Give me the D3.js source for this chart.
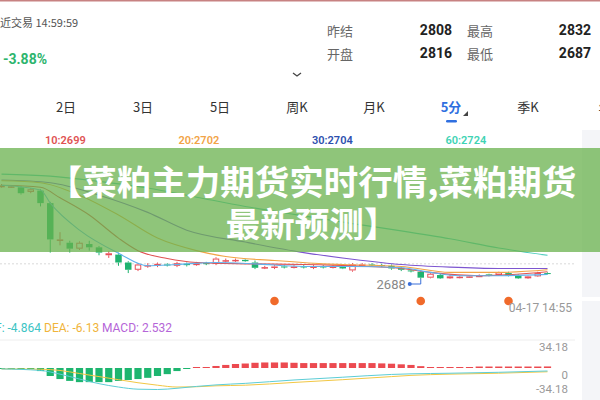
<!DOCTYPE html>
<html><head><meta charset="utf-8">
<script src="https://cdn.jsdelivr.net/npm/d3@7"></script>
<style>
body{margin:0;background:#fff;overflow:hidden;}
svg{display:block;font-family:"Noto Sans CJK SC","Noto Sans",sans-serif;}
.num{font-family:Roboto,"Noto Sans",sans-serif;}
</style>
</head><body>
<svg id="c" width="600" height="400"></svg>
<script>
// ---------- data ----------
const headerTime = "近交易 14:59:59";
const changePct = "-3.88%";
const infoLabels = [["昨结","2808","最高","2832"],["开盘","2816","最低","2687"]];
const tabs = ["K","2日","3日","5日","周K","月K","5分","季K","年"];
const activeTab = "5分";
const maLabels = ["10:2699","20:2702","30:2704","60:2724"];
const macdLabels = ["DIF: -4.864","DEA: -6.13","MACD: 2.532"];
const macdTicks = [34.18, 0, -34.18];
const priceDomain = [2688, 2832];
const gridPrices = [2711];
const lowLabel = 2688, lowIndex = 43;
const lastTime = "04-17 14:55";
const markerIdx = [28, 43, 52];
const titleLines = ["【菜粕主力期货实时行情,菜粕期货","最新预测】"];

// open, close, high, low
const ohlc = [
[2827,2830,2832,2826],[2828,2828.5,2830,2826],[2827,2818,2829,2816],[2820,2824,2826,2818],
[2822,2803,2824,2798],[2803,2748,2805,2728],[2746,2748,2759,2739],[2743,2734,2746,2728],
[2734,2743,2745,2732],[2741,2736,2746,2731],[2736,2728,2738,2724],[2724,2727,2730,2720],
[2725,2713,2728,2708],[2713,2702,2715,2697],[2702,2710,2712,2700],[2708,2709,2712,2705],
[2708,2711,2713,2706],[2710,2709,2712,2707],[2708,2712,2714,2706],[2711,2709,2713,2707],
[2709,2712,2714,2708],[2712,2711,2714,2709],[2711,2719,2721,2709],[2716,2716.5,2719,2713],
[2716,2717,2719,2714],[2717,2715,2718,2714],[2713,2705,2716,2703],[2705,2706,2708,2703],
[2705,2707,2709,2703],[2707,2706,2709,2704],[2706,2707,2709,2704],[2707,2706,2709,2704],
[2706,2707,2709,2703],[2707,2706,2709,2704],[2706,2707,2709,2704],[2707,2704,2708,2703],
[2701,2710,2712,2699],[2709,2710,2712,2707],[2710,2709,2712,2707],[2709,2708,2711,2706],
[2708,2704,2710,2702],[2705,2702,2707,2700],[2701,2700,2703,2698],[2699,2690,2701,2688],
[2690,2696,2698,2689],[2694,2689,2696,2688],[2689,2692,2694,2688],[2691,2691.5,2693,2689],
[2691,2692,2693,2690],[2692,2693,2695,2691],[2695,2693,2696,2692],[2694,2698,2699,2693],
[2697,2693,2699,2692],[2693,2689,2695,2688],[2689,2692,2693,2688],[2692,2697,2699,2691],
[2697,2696,2698,2695]
];

// moving-average readings [index, value]
const ma5  = [[0,2830],[4,2823],[5,2803],[8,2762],[12,2727],[15,2708],[18,2710],[22,2713],[26,2711],[31,2707],[36,2707],[41,2705],[44,2698],[47,2693],[51,2693],[56,2695]];
const ma10 = [[0,2830],[4,2827],[6,2811],[9,2785],[12,2750],[14,2731],[17,2719],[20,2713],[25,2711],[31,2710],[36,2708],[41,2704],[44,2698],[49,2693],[56,2699]];
const ma20 = [[0,2837],[4,2834],[8,2815],[12,2785],[16,2750],[20,2731],[23,2722],[28,2716],[33,2711],[41,2707],[46,2698],[51,2698],[56,2702]];
const ma30 = [[0,2838],[5,2834],[10,2815],[15,2789],[19,2762],[25,2744],[31,2728],[36,2718],[41,2710],[46,2706],[51,2704],[56,2704]];
const ma60 = [[0,2847],[5,2844],[10,2836],[15,2826],[20,2812],[25,2798],[30,2786],[36,2772],[41,2761],[46,2749],[51,2735],[56,2724]];

const macdHist = [-1.5,-1.5,-1.5,-1.5,-5,-13,-18,-21,-23,-23,-23,-23,-21,-19.5,-18,-16,-13,-10,-5,-1.5,
0.8,1.6,3.3,5,6.5,7.3,8.5,9,9,9,8.5,8,8,8,8,8,8,8,8,7.5,7,6,5,3,1.6,1.6,1.6,1.6,1.6,2.4,2.4,2.4,2.4,2.4,2.4,2.4,2.532];
const dif = [[0,-1.5],[4,-4],[6,-10],[8,-18],[10,-25.5],[12,-31],[14,-34.5],[16,-35],[18,-33],[20,-30],[22,-27.5],[25,-25],[30,-19.5],[35,-15],[40,-10.5],[42,-9.5],[46,-8.5],[51,-7],[56,-4.864]];
const dea = [[0,-1.5],[4,-2],[6,-4],[8,-9],[10,-14],[12,-19],[14,-24],[16,-28],[18,-31],[20,-30.5],[22,-29],[25,-28],[30,-23.5],[35,-19],[40,-14],[42,-12],[46,-10],[51,-8.5],[56,-6.13]];

// ---------- drawing ----------
const RED="#e8505a", GREEN="#1fb36f";
const svg = d3.select("#c");

// side panel
svg.append("rect").attr("x",582).attr("y",130).attr("width",18).attr("height",167).attr("fill","#f4f5f8");
svg.append("rect").attr("x",582).attr("y",301).attr("width",18).attr("height",99).attr("fill","#f4f5f8");

// top border
svg.append("rect").attr("x",0).attr("y",0).attr("width",600).attr("height",1.5).attr("fill","#c78282");

// header
svg.append("text").attr("x",0).attr("y",22).attr("dominant-baseline","central")
  .attr("font-size",11).attr("fill","#555").text(headerTime);
svg.append("text").attr("class","num").attr("x",3).attr("y",59).attr("dominant-baseline","central")
  .attr("font-size",14).attr("font-weight",700).attr("fill","#2db56e").text(changePct);
const colX=[327,452,467,591];
infoLabels.forEach((row,r)=>{
  row.forEach((t,c)=>{
    const isNum = c%2===1;
    svg.append("text").attr("class",isNum?"num":null)
      .attr("x",colX[c]).attr("y",30+r*23).attr("dominant-baseline","central")
      .attr("text-anchor",isNum?"end":"start")
      .attr("font-size",isNum?14:13).attr("font-weight",isNum?700:400)
      .attr("fill",isNum?"#222":"#666").text(t);
  });
});
// chevron
svg.append("path").attr("d","M293,73 L297,76 L301,73").attr("fill","none").attr("stroke","#444").attr("stroke-width",1.3);

// tabs
tabs.forEach((t,i)=>{
  const cx = -11 + i*77;
  const act = t===activeTab;
  svg.append("text").attr("x",cx).attr("y",106).attr("dominant-baseline","central")
    .attr("text-anchor","middle").attr("font-size",13).attr("font-weight",act?700:400)
    .attr("fill",act?"#2f6fe0":"#333").text(t);
  if(act){
    svg.append("rect").attr("x",cx-5).attr("y",120).attr("width",11).attr("height",2.5).attr("rx",1.2).attr("fill","#2f6fe0");
    svg.append("path").attr("d",`M${cx+17},111 L${cx+17},116 L${cx+12},116 Z`).attr("fill","#444");
  }
});

// MA labels
const maColors=["#e05252","#f2a447","#2d4fae","#40d3b4"];
maLabels.forEach((t,i)=>{
  svg.append("text").attr("class","num").attr("x",45+i*133.5).attr("y",140).attr("dominant-baseline","central")
    .attr("font-size",11).attr("font-weight",600).attr("fill",maColors[i]).text(t);
});

// scales
const x = d3.scaleLinear().domain([0, ohlc.length-1]).range([1.5, 547.5]);
const y = d3.scaleLinear().domain(priceDomain).range([279, 184]);

// grid
gridPrices.forEach(p=>{
  svg.append("line").attr("x1",0).attr("x2",575).attr("y1",y(p)).attr("y2",y(p))
    .attr("stroke","#cfcfcf").attr("stroke-dasharray","2,2").attr("stroke-width",0.8);
});

// candles
const bw=6.5;
const cg = svg.append("g");
ohlc.forEach((d,i)=>{
  const [o,c,h,l]=d;
  const up = c>=o;
  const col = up?RED:GREEN;
  const cx=x(i);
  const top=y(Math.max(o,c)), bot=y(Math.min(o,c));
  cg.append("line").attr("x1",cx).attr("x2",cx).attr("y1",y(h)).attr("y2",top).attr("stroke",col).attr("stroke-width",1);
  cg.append("line").attr("x1",cx).attr("x2",cx).attr("y1",bot).attr("y2",y(l)).attr("stroke",col).attr("stroke-width",1);
  const hgt=Math.max(1,bot-top);
  if(up){
    cg.append("rect").attr("x",cx-bw/2+0.5).attr("y",top+0.5).attr("width",bw-1).attr("height",Math.max(0.5,hgt-1))
      .attr("fill","#fff").attr("stroke",col).attr("stroke-width",1);
  } else {
    cg.append("rect").attr("x",cx-bw/2).attr("y",top).attr("width",bw).attr("height",hgt).attr("fill",col);
  }
});

// MA lines
const line = d3.line().x(d=>x(d[0])).y(d=>y(d[1])).curve(d3.curveMonotoneX);
[[ma60,"#45c9b8"],[ma30,"#7d56d0"],[ma20,"#f2a447"],[ma10,"#e05252"],[ma5,"#5fb2ee"]].forEach(([s,c])=>{
  svg.append("path").attr("d",line(s)).attr("fill","none").attr("stroke",c).attr("stroke-width",1.1);
});

// low annotation
const lx=x(lowIndex), ly=y(lowLabel);
svg.append("path").attr("d",`M${lx-11},284 L${lx},284 L${lx},${ly}`).attr("fill","none").attr("stroke","#3a6fd8").attr("stroke-width",1);
svg.append("circle").attr("cx",lx-11).attr("cy",284).attr("r",2).attr("fill","#3a6fd8");
svg.append("text").attr("class","num").attr("x",lx-15).attr("y",284).attr("dominant-baseline","central")
  .attr("text-anchor","end").attr("font-size",13).attr("fill","#888").text(String(lowLabel));

// event markers
markerIdx.forEach(i=>{
  svg.append("circle").attr("cx",x(i)).attr("cy",301).attr("r",4.3).attr("fill","#f06a2a");
});
svg.append("text").attr("class","num").attr("x",572).attr("y",308).attr("dominant-baseline","central")
  .attr("text-anchor","end").attr("font-size",12).attr("fill","#999").text(lastTime);

// MACD
const ym = d3.scaleLinear().domain([-34.18,34.18]).range([389,347]);
svg.append("line").attr("x1",0).attr("x2",575).attr("y1",340).attr("y2",340).attr("stroke","#eeeeee");
const macdCols=["#3cc4c4","#f0b43a","#b565d8"];
svg.append("text").attr("class","num").attr("x",41).attr("y",328).attr("dominant-baseline","central")
  .attr("text-anchor","end").attr("font-size",12).attr("fill",macdCols[0]).text(macdLabels[0]);
svg.append("text").attr("class","num").attr("x",44).attr("y",328).attr("dominant-baseline","central")
  .attr("font-size",12).attr("fill",macdCols[1]).text(macdLabels[1]);
svg.append("text").attr("class","num").attr("x",102).attr("y",328).attr("dominant-baseline","central")
  .attr("font-size",12).attr("fill",macdCols[2]).text(macdLabels[2]);

macdHist.forEach((v,i)=>{
  const y0=ym(0), y1=ym(v);
  const h=Math.max(1,Math.abs(y1-y0));
  svg.append("rect").attr("x",x(i)-3.6).attr("width",7.2)
    .attr("y",v>=0?y0-h:y0).attr("height",h).attr("fill",v>=0?"#ec4a50":"#1db56f");
});
const ml = d3.line().x(d=>x(d[0])).y(d=>ym(d[1])).curve(d3.curveMonotoneX);
svg.append("path").attr("d",ml(dea)).attr("fill","none").attr("stroke","#f2c744").attr("stroke-width",1);
svg.append("path").attr("d",ml(dif)).attr("fill","none").attr("stroke","#5ccdd6").attr("stroke-width",1);

macdTicks.forEach(t=>{
  svg.append("text").attr("class","num").attr("x",568).attr("y",ym(t)+(t===0?7:0)).attr("dominant-baseline","central")
    .attr("text-anchor","end").attr("font-size",11.5).attr("fill","#999").text(String(t));
});

// banner overlay
svg.append("rect").attr("x",0).attr("y",148).attr("width",600).attr("height",104).attr("fill","rgba(106,178,78,0.75)");
titleLines.forEach((t,i)=>{
  svg.append("text").attr("x",312).attr("y",180+i*42).attr("dominant-baseline","central")
    .attr("text-anchor","middle").attr("font-size",34.5).attr("font-weight",700).attr("fill","#fff").text(t);
});
</script>
</body></html>
